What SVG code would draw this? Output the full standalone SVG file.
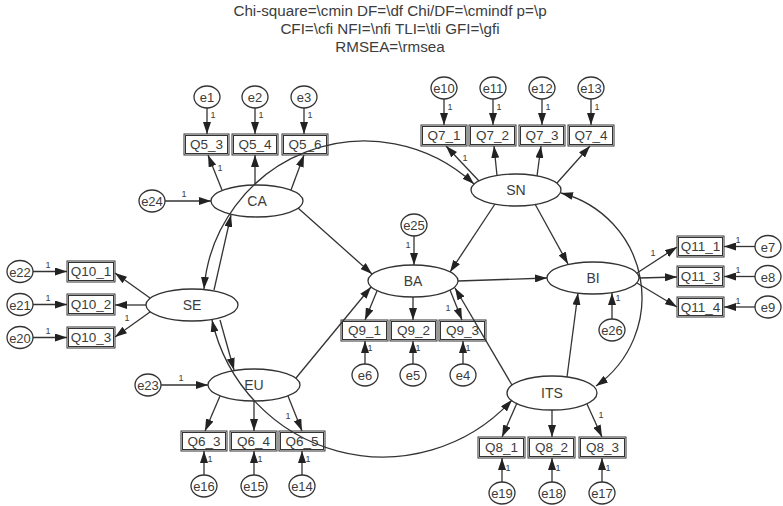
<svg xmlns="http://www.w3.org/2000/svg" width="783" height="506" viewBox="0 0 783 506">
<defs>
<marker id="ah" viewBox="0 0 12 8" refX="12" refY="4" markerWidth="12" markerHeight="8" markerUnits="userSpaceOnUse" orient="auto-start-reverse"><path d="M0,0 L12,4 L0,8 z" fill="#222"/></marker>
</defs>
<style>
text{font-family:"Liberation Sans",Arial,sans-serif;fill:#3c3c3c}
.hd{font-size:15.2px;text-anchor:middle}
.lv{font-size:14px;text-anchor:middle}
.ob{font-size:13.5px;text-anchor:middle}
.er{font-size:13px;text-anchor:middle}
.w{font-size:9px;text-anchor:middle}
ellipse{fill:none;stroke:#333;stroke-width:1.3}
rect{fill:none;stroke:#333;stroke-width:1}
.c path{fill:none;stroke:#333;stroke-width:1.3;marker-end:url(#ah)}
.c path.a2{marker-start:url(#ah)}
</style>
<rect x="0" y="0" width="783" height="506" style="fill:#fff;stroke:none"/>
<g id="header">
<text class="hd" x="390" y="16">Chi-square=\cmin DF=\df Chi/DF=\cmindf p=\p</text>
<text class="hd" x="390" y="34">CFI=\cfi NFI=\nfi TLI=\tli GFI=\gfi</text>
<text class="hd" x="390" y="52">RMSEA=\rmsea</text>
</g>
<g id="connectors" class="c">
<path class="a2" d="M204,289 A161,161 0 0 1 474,184"/>
<path class="a2" d="M212,320 A175,175 0 0 0 512,400"/>
<path class="a2" d="M561,193 A108,108 0 0 1 596,386"/>
<path d="M207,108 L207,134"/><path d="M255,108 L255,134"/><path d="M304,108 L304,134"/>
<path d="M222,190 L208,155"/><path d="M255,185 L255,155"/><path d="M291,190 L304,155"/>
<path d="M165,201 L211,201"/>
<path d="M150,298 L115,273"/><path d="M146,305 L115,305"/><path d="M150,312 L115,337"/>
<path d="M33,271.5 L67,271.5"/><path d="M33,304.5 L67,304.5"/><path d="M33,337.5 L67,337.5"/>
<path d="M214,290 L231,215"/>
<path d="M220,320 L234,370"/>
<path d="M161,385 L208,385"/>
<path d="M220,396 L205,431"/><path d="M254,401 L254,431"/><path d="M288,396 L302,431"/>
<path d="M204,475 L204,451"/><path d="M254,475 L254,451"/><path d="M302,475 L302,451"/>
<path d="M414,236 L414,265"/>
<path d="M377,291 L365,320"/><path d="M413,297 L413,320"/><path d="M450,290 L462,320"/>
<path d="M365,364 L365,341"/><path d="M413,364 L413,341"/><path d="M463,364 L463,341"/>
<path d="M298,208 L372,274"/>
<path d="M296,378 L371,287"/>
<path d="M495,204 L450,272"/>
<path d="M458,281 L547,278"/>
<path d="M535,204 L568,264"/>
<path d="M512,385 L455,288"/>
<path d="M567,377 L578,293"/>
<path d="M444,99 L444,125"/><path d="M493,99 L493,125"/><path d="M542,99 L542,125"/><path d="M591,99 L591,125"/>
<path d="M479,181 L446,146"/><path d="M497,175.5 L494,146"/><path d="M537,176 L541,146"/><path d="M557,183 L590,146"/>
<path d="M637,273 L677,247"/><path d="M639,278 L677,277"/><path d="M637,283 L677,307"/>
<path d="M755,246.5 L724,246.5"/><path d="M755,276.5 L724,276.5"/><path d="M755,307 L724,307"/>
<path d="M612,319 L612,293"/>
<path d="M517,403 L502,437"/><path d="M552,410 L552,437"/><path d="M587,404 L602,437"/>
<path d="M502,482 L502,458"/><path d="M552,482 L552,458"/><path d="M602,482 L602,458"/>
</g>
<g id="weights">
<text class="w" x="213" y="118">1</text><text class="w" x="261" y="118">1</text><text class="w" x="310" y="118">1</text>
<text class="w" x="220" y="171">1</text>
<text class="w" x="184" y="197">1</text>
<text class="w" x="48" y="268">1</text><text class="w" x="48" y="301">1</text><text class="w" x="48" y="334">1</text>
<text class="w" x="127" y="321">1</text>
<text class="w" x="181" y="381">1</text>
<text class="w" x="288" y="419">1</text>
<text class="w" x="210" y="462">1</text><text class="w" x="260" y="462">1</text><text class="w" x="308" y="462">1</text>
<text class="w" x="408" y="248">1</text>
<text class="w" x="448" y="311">1</text>
<text class="w" x="370" y="351">1</text><text class="w" x="418" y="351">1</text><text class="w" x="468" y="351">1</text>
<text class="w" x="450" y="110">1</text><text class="w" x="499" y="110">1</text><text class="w" x="548" y="110">1</text><text class="w" x="597" y="110">1</text>
<text class="w" x="465" y="161">1</text>
<text class="w" x="653" y="256">1</text>
<text class="w" x="738" y="243">1</text><text class="w" x="738" y="273">1</text><text class="w" x="738" y="304">1</text>
<text class="w" x="618" y="301">1</text>
<text class="w" x="601" y="418">1</text>
<text class="w" x="508" y="471">1</text><text class="w" x="558" y="471">1</text><text class="w" x="608" y="471">1</text>
</g>
<g id="CA"><ellipse cx="257" cy="201" rx="46" ry="16"/><text class="lv" x="257" y="206">CA</text></g>
<g id="SE"><ellipse cx="192" cy="305" rx="46" ry="16"/><text class="lv" x="192" y="310">SE</text></g>
<g id="EU"><ellipse cx="254" cy="385" rx="46" ry="16"/><text class="lv" x="254" y="390">EU</text></g>
<g id="BA"><ellipse cx="413" cy="281" rx="45" ry="16"/><text class="lv" x="413" y="286">BA</text></g>
<g id="SN"><ellipse cx="516" cy="190" rx="45" ry="16"/><text class="lv" x="516" y="195">SN</text></g>
<g id="BI"><ellipse cx="593" cy="278" rx="46" ry="16"/><text class="lv" x="593" y="283">BI</text></g>
<g id="ITS"><ellipse cx="552" cy="393" rx="45" ry="17"/><text class="lv" x="552" y="398">ITS</text></g>
<g id="Q5_3"><rect x="184" y="134" width="45" height="21"/><rect x="185.5" y="135.5" width="42" height="18"/><text class="ob" x="206.5" y="149">Q5_3</text></g>
<g id="Q5_4"><rect x="232" y="134" width="46" height="21"/><rect x="233.5" y="135.5" width="43" height="18"/><text class="ob" x="255" y="149">Q5_4</text></g>
<g id="Q5_6"><rect x="282" y="134" width="46" height="21"/><rect x="283.5" y="135.5" width="43" height="18"/><text class="ob" x="305" y="149">Q5_6</text></g>
<g id="Q10_1"><rect x="67" y="261" width="48" height="21"/><rect x="68.5" y="262.5" width="45" height="18"/><text class="ob" x="91" y="276">Q10_1</text></g>
<g id="Q10_2"><rect x="67" y="294" width="48" height="21"/><rect x="68.5" y="295.5" width="45" height="18"/><text class="ob" x="91" y="309">Q10_2</text></g>
<g id="Q10_3"><rect x="67" y="327" width="48" height="21"/><rect x="68.5" y="328.5" width="45" height="18"/><text class="ob" x="91" y="342">Q10_3</text></g>
<g id="Q6_3"><rect x="181" y="431" width="46" height="20"/><rect x="182.5" y="432.5" width="43" height="17"/><text class="ob" x="204" y="445.5">Q6_3</text></g>
<g id="Q6_4"><rect x="230" y="431" width="47" height="20"/><rect x="231.5" y="432.5" width="44" height="17"/><text class="ob" x="253.5" y="445.5">Q6_4</text></g>
<g id="Q6_5"><rect x="279" y="431" width="46" height="20"/><rect x="280.5" y="432.5" width="43" height="17"/><text class="ob" x="302" y="445.5">Q6_5</text></g>
<g id="Q9_1"><rect x="341" y="320" width="47" height="21"/><rect x="342.5" y="321.5" width="44" height="18"/><text class="ob" x="364.5" y="335">Q9_1</text></g>
<g id="Q9_2"><rect x="390" y="320" width="47" height="21"/><rect x="391.5" y="321.5" width="44" height="18"/><text class="ob" x="413.5" y="335">Q9_2</text></g>
<g id="Q9_3"><rect x="439" y="320" width="47" height="21"/><rect x="440.5" y="321.5" width="44" height="18"/><text class="ob" x="462.5" y="335">Q9_3</text></g>
<g id="Q7_1"><rect x="421" y="125" width="46" height="21"/><rect x="422.5" y="126.5" width="43" height="18"/><text class="ob" x="444" y="140">Q7_1</text></g>
<g id="Q7_2"><rect x="469" y="125" width="47" height="21"/><rect x="470.5" y="126.5" width="44" height="18"/><text class="ob" x="492.5" y="140">Q7_2</text></g>
<g id="Q7_3"><rect x="519" y="125" width="46" height="21"/><rect x="520.5" y="126.5" width="43" height="18"/><text class="ob" x="542" y="140">Q7_3</text></g>
<g id="Q7_4"><rect x="568" y="125" width="46" height="21"/><rect x="569.5" y="126.5" width="43" height="18"/><text class="ob" x="591" y="140">Q7_4</text></g>
<g id="Q11_1"><rect x="677" y="236" width="47" height="21"/><rect x="678.5" y="237.5" width="44" height="18"/><text class="ob" x="700.5" y="251">Q11_1</text></g>
<g id="Q11_3"><rect x="677" y="266" width="47" height="21"/><rect x="678.5" y="267.5" width="44" height="18"/><text class="ob" x="700.5" y="281">Q11_3</text></g>
<g id="Q11_4"><rect x="677" y="297" width="47" height="20"/><rect x="678.5" y="298.5" width="44" height="17"/><text class="ob" x="700.5" y="311.5">Q11_4</text></g>
<g id="Q8_1"><rect x="478" y="437" width="47" height="21"/><rect x="479.5" y="438.5" width="44" height="18"/><text class="ob" x="501.5" y="452">Q8_1</text></g>
<g id="Q8_2"><rect x="528" y="437" width="47" height="21"/><rect x="529.5" y="438.5" width="44" height="18"/><text class="ob" x="551.5" y="452">Q8_2</text></g>
<g id="Q8_3"><rect x="579" y="437" width="47" height="21"/><rect x="580.5" y="438.5" width="44" height="18"/><text class="ob" x="602.5" y="452">Q8_3</text></g>
<g id="e1"><ellipse cx="207" cy="97" rx="13" ry="11"/><text class="er" x="207" y="102">e1</text></g>
<g id="e2"><ellipse cx="255" cy="97" rx="13" ry="11"/><text class="er" x="255" y="102">e2</text></g>
<g id="e3"><ellipse cx="304" cy="97" rx="13" ry="11"/><text class="er" x="304" y="102">e3</text></g>
<g id="e24"><ellipse cx="152" cy="201" rx="13" ry="11"/><text class="er" x="152" y="206">e24</text></g>
<g id="e22"><ellipse cx="20" cy="271.5" rx="13" ry="11"/><text class="er" x="20" y="276.5">e22</text></g>
<g id="e21"><ellipse cx="20" cy="304.5" rx="13" ry="11"/><text class="er" x="20" y="309.5">e21</text></g>
<g id="e20"><ellipse cx="20" cy="337.5" rx="13" ry="11"/><text class="er" x="20" y="342.5">e20</text></g>
<g id="e23"><ellipse cx="148" cy="385" rx="13" ry="11"/><text class="er" x="148" y="390">e23</text></g>
<g id="e16"><ellipse cx="204" cy="486" rx="13" ry="11"/><text class="er" x="204" y="491">e16</text></g>
<g id="e15"><ellipse cx="254" cy="486" rx="13" ry="11"/><text class="er" x="254" y="491">e15</text></g>
<g id="e14"><ellipse cx="302" cy="486" rx="13" ry="11"/><text class="er" x="302" y="491">e14</text></g>
<g id="e25"><ellipse cx="414" cy="225" rx="13" ry="11"/><text class="er" x="414" y="230">e25</text></g>
<g id="e6"><ellipse cx="365" cy="375" rx="13" ry="11"/><text class="er" x="365" y="380">e6</text></g>
<g id="e5"><ellipse cx="413" cy="375" rx="13" ry="11"/><text class="er" x="413" y="380">e5</text></g>
<g id="e4"><ellipse cx="463" cy="375" rx="13" ry="11"/><text class="er" x="463" y="380">e4</text></g>
<g id="e10"><ellipse cx="444" cy="88" rx="13" ry="11"/><text class="er" x="444" y="93">e10</text></g>
<g id="e11"><ellipse cx="493" cy="88" rx="13" ry="11"/><text class="er" x="493" y="93">e11</text></g>
<g id="e12"><ellipse cx="542" cy="88" rx="13" ry="11"/><text class="er" x="542" y="93">e12</text></g>
<g id="e13"><ellipse cx="591" cy="88" rx="13" ry="11"/><text class="er" x="591" y="93">e13</text></g>
<g id="e7"><ellipse cx="768" cy="246.5" rx="13" ry="11"/><text class="er" x="768" y="251.5">e7</text></g>
<g id="e8"><ellipse cx="768" cy="276.5" rx="13" ry="11"/><text class="er" x="768" y="281.5">e8</text></g>
<g id="e9"><ellipse cx="768" cy="307" rx="13" ry="11"/><text class="er" x="768" y="312">e9</text></g>
<g id="e26"><ellipse cx="612" cy="330" rx="13" ry="11"/><text class="er" x="612" y="335">e26</text></g>
<g id="e19"><ellipse cx="502" cy="493" rx="13" ry="11"/><text class="er" x="502" y="498">e19</text></g>
<g id="e18"><ellipse cx="552" cy="493" rx="13" ry="11"/><text class="er" x="552" y="498">e18</text></g>
<g id="e17"><ellipse cx="602" cy="493" rx="13" ry="11"/><text class="er" x="602" y="498">e17</text></g>
</svg>
